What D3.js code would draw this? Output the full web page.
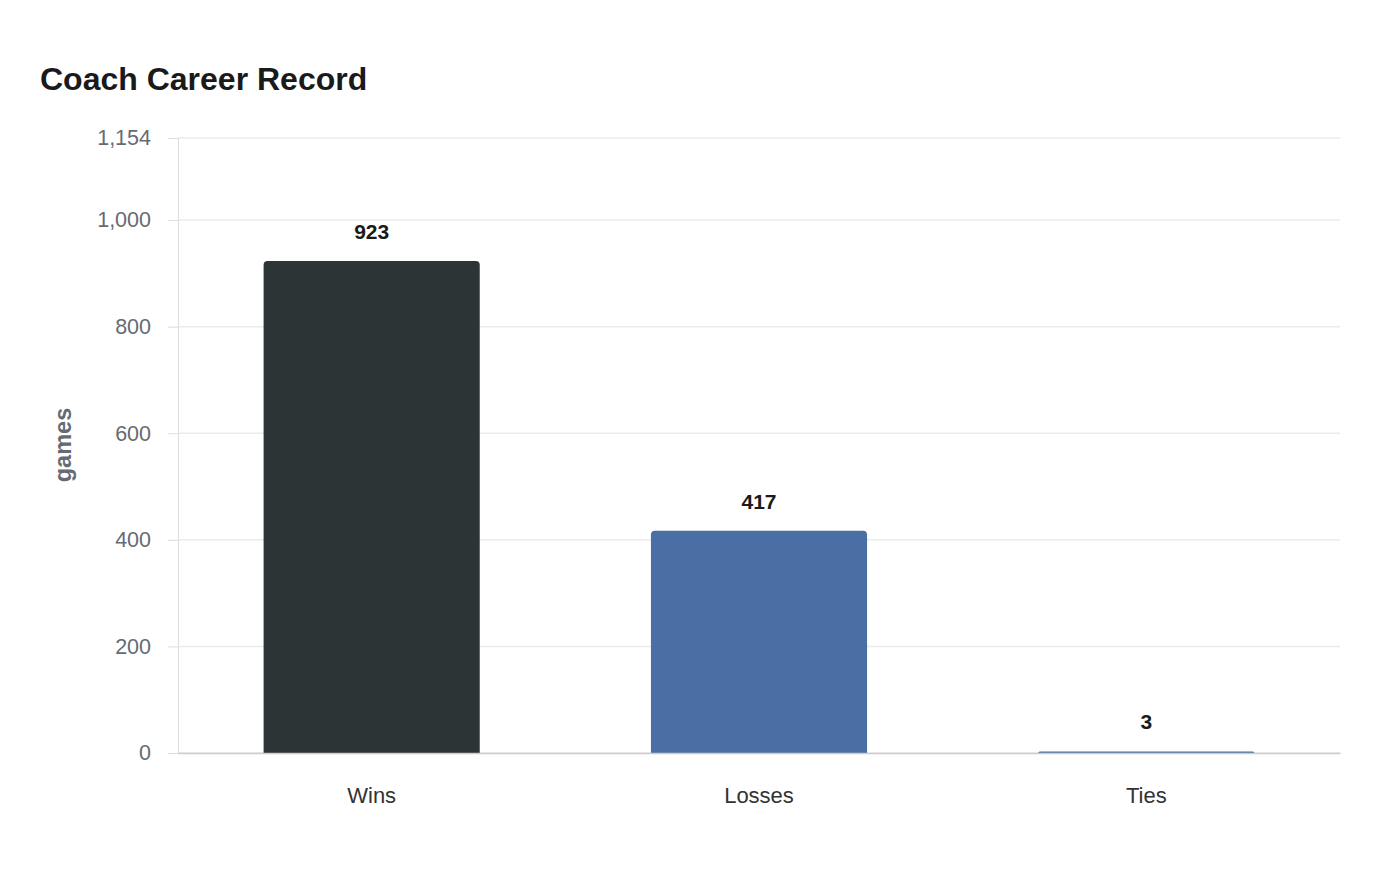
<!DOCTYPE html>
<html>
<head>
<meta charset="utf-8">
<script src="https://cdn.jsdelivr.net/npm/d3@7"></script>
<style>
  body { margin: 0; background: #fff; font-family: "Liberation Sans", Arial, sans-serif; }
</style>
</head>
<body>
<svg id="chart" width="1400" height="880"></svg>
<script>
const categories = ['Wins', 'Losses', 'Ties']
const games = [923, 417, 3]
const barColors = ['#2d3436', '#4a6fa5', '#4a6fa5']
const yTicks = [0, 200, 400, 600, 800, 1000, 1154]
const yMax = 1154

const margin = { top: 138, right: 60, bottom: 127, left: 178 }
const width = 1400, height = 880

const svg = d3.select('#chart')

svg.append('text')
    .text('Coach Career Record')
    .attr('x', 40)
    .attr('y', 90)
    .attr('font-size', '32px')
    .attr('font-weight', 'bold')
    .attr('fill', '#1a1a1a')

const x = d3.scaleBand()
    .domain(categories)
    .range([margin.left, width - margin.right])
    .paddingInner(0.442)
    .paddingOuter(0.221)

const y = d3.scaleLinear()
    .domain([0, yMax])
    .range([height - margin.bottom, margin.top])

// gridlines
svg.append('g')
    .selectAll('line')
    .data(yTicks)
    .join('line')
    .attr('x1', margin.left)
    .attr('x2', width - margin.right)
    .attr('y1', d => y(d))
    .attr('y2', d => y(d))
    .attr('stroke', '#ebebeb')
    .attr('stroke-width', 1.5)

// y axis
const yAxis = svg.append('g')
    .attr('transform', `translate(${margin.left},0)`)
    .call(d3.axisLeft(y).tickValues(yTicks).tickFormat(d3.format(',')).tickSize(10).tickPadding(17))
yAxis.select('.domain').attr('stroke', '#dddddd')
yAxis.selectAll('.tick line').attr('stroke', '#dddddd')
yAxis.selectAll('.tick text')
    .attr('font-size', '21.5px')
    .attr('fill', '#666b73')
    .attr('font-family', '"Liberation Sans", Arial, sans-serif')

svg.append('text')
    .text('games')
    .attr('transform', `translate(71, 445) rotate(-90)`)
    .attr('text-anchor', 'middle')
    .attr('font-size', '23.5px')
    .attr('font-weight', 'bold')
    .attr('fill', '#666b73')

// bars with rounded top corners
const r = 4
function barPath(x0, w, yTop, yBase) {
    let h = yBase - yTop
    let rr = Math.min(r, h, w / 2)
    return `M${x0},${yBase} V${yTop + rr} Q${x0},${yTop} ${x0 + rr},${yTop} H${x0 + w - rr} Q${x0 + w},${yTop} ${x0 + w},${yTop + rr} V${yBase} Z`
}

svg.append('g')
    .selectAll('path')
    .data(categories)
    .join('path')
    .attr('d', (d, i) => barPath(x(d), x.bandwidth(), y(games[i]), y(0)))
    .attr('fill', (d, i) => barColors[i])

// x axis
const xAxis = svg.append('g')
    .attr('transform', `translate(0,${y(0)})`)
    .call(d3.axisBottom(x).tickSize(0).tickPadding(34))
xAxis.select('.domain').attr('stroke', '#cccccc').attr('stroke-width', 1.5)
xAxis.selectAll('.tick text')
    .attr('font-size', '22px')
    .attr('fill', '#333333')
    .attr('font-family', '"Liberation Sans", Arial, sans-serif')

// value labels
svg.append('g')
    .selectAll('text')
    .data(categories)
    .join('text')
    .text((d, i) => games[i])
    .attr('x', d => x(d) + x.bandwidth() / 2)
    .attr('y', (d, i) => y(games[i]) - 22)
    .attr('text-anchor', 'middle')
    .attr('font-size', '21px')
    .attr('font-weight', 'bold')
    .attr('fill', '#1a1a1a')
</script>
</body>
</html>
